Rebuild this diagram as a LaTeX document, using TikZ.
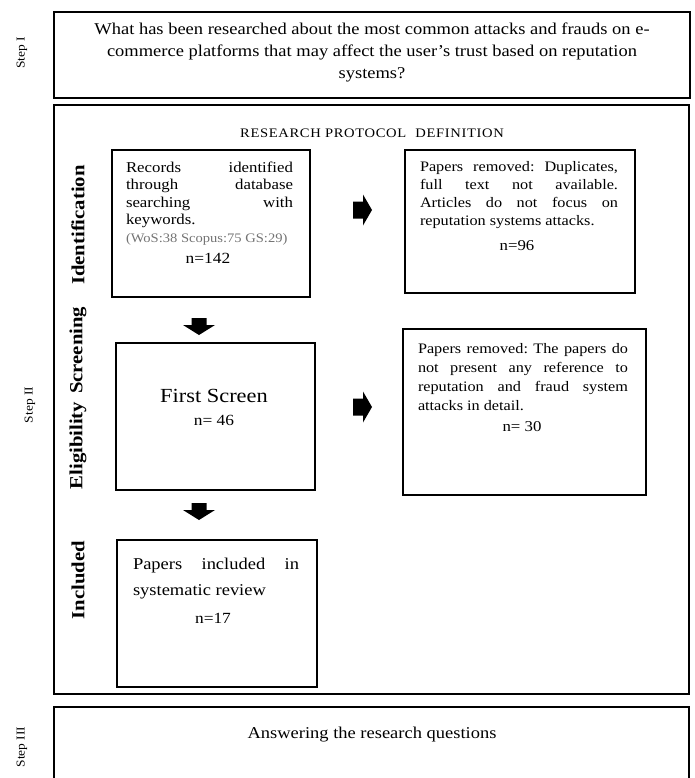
\documentclass[tikz,border=0pt]{standalone}
\usepackage{fontspec}
\setmainfont{Liberation Serif}[FakeStretch=1.12]
\begin{document}
\begin{tikzpicture}[x=1pt,y=-1pt,
 outer/.style={draw, line width=2.6pt, inner sep=0pt, outer sep=0pt, anchor=north west},
 inbox/.style={draw, line width=1.2pt, inner sep=0pt, outer sep=0pt, anchor=north west},
 txt/.style={inner sep=0pt, outer sep=0pt},
 sidelab/.style={txt, rotate=90, font=\bfseries\fontsize{18.5}{22}\selectfont},
 steplab/.style={txt, rotate=90, font=\fontsize{12}{14}\selectfont},
 rarrow/.pic={\fill (-9.5,-8.5) -- (0.5,-8.5) -- (0.5,-15.5) -- (9.5,0) -- (0.5,15.5) -- (0.5,8.5) -- (-9.5,8.5) -- cycle;},
 darrow/.pic={\fill (-7.5,-8.5) -- (7.5,-8.5) -- (7.5,-1.5) -- (16,-1.5) -- (0,8.5) -- (-16,-1.5) -- (-7.5,-1.5) -- cycle;}]
\useasboundingbox (0,0) rectangle (694,778);

% outer step boxes
\node[outer, minimum width=636pt, minimum height=86pt] (s1) at (54,12) {};
\node[outer, minimum width=635pt, minimum height=589pt] (s2) at (54,105) {};
\node[outer, minimum width=635pt, minimum height=90pt] (s3) at (54,707) {};

% step labels
\node[steplab] (l1) at (22,53) {Step I};
\node[steplab] (l2) at (30,405) {Step II};
\node[steplab] (l3) at (22,747) {Step III};

% question
\node[txt, align=center, font=\fontsize{16.5}{22}\selectfont] (q) at (372,52)
 {What has been researched about the most common attacks and frauds on e-\\
  commerce platforms that may affect the user's trust based on reputation\\
  systems?};

\node[txt, font=\fontsize{13}{16}\selectfont\addfontfeatures{LetterSpace=5}] (rpd) at (372,133) {RESEARCH PROTOCOL\hspace{5pt} DEFINITION};

% side labels
\node[sidelab] (lid) at (78,225) {Identification};
\node[sidelab] (lel) at (78,398) {Eligibility\hspace{8pt}Screening};
\node[sidelab] (lin) at (78,580) {Included};

% inner boxes
\node[inbox, minimum width=198pt, minimum height=147pt] (rec) at (112,150) {};
\node[inbox, minimum width=230pt, minimum height=143pt] (rem1) at (405,150) {};
\node[inbox, minimum width=199pt, minimum height=147pt] (fs) at (116,343) {};
\node[inbox, minimum width=243pt, minimum height=166pt] (rem2) at (403,329) {};
\node[inbox, minimum width=200pt, minimum height=147pt] (inc) at (117,540) {};

% box texts
\node[txt, anchor=north west, text width=167pt, align=justify, font=\fontsize{15}{17.5}\selectfont] (trec) at (126,161.5)
 {Records\hfill identified\\
  through\hfill database\\
  searching\hfill with\\
  keywords.\\
  {\color{black!55}\fontsize{13}{17.5}\selectfont (WoS:38 Scopus:75 GS:29)}};
\node[txt, anchor=base, font=\fontsize{15.5}{18}\selectfont] (nrec) at (208,263) {n=142};

\node[txt, anchor=north west, text width=198pt, align=justify, font=\fontsize{14.5}{18}\selectfont] (trem1) at (420,161.5)
 {Papers\hfill removed:\hfill Duplicates,\\
  full\hfill text\hfill not\hfill available.\\
  Articles\hfill do\hfill not\hfill focus\hfill on\\
  reputation systems attacks.};
\node[txt, anchor=base, font=\fontsize{15}{18}\selectfont] (nrem1) at (517,250) {n=96};

\node[txt, anchor=base, font=\fontsize{20}{24}\selectfont] (tfs) at (214,402) {First Screen};
\node[txt, anchor=base, font=\fontsize{15.5}{18}\selectfont] (nfs) at (214,425) {n= 46};

\node[txt, anchor=north west, text width=210pt, align=justify, font=\fontsize{14.5}{19}\selectfont] (trem2) at (418,343)
 {Papers\hfill removed:\hfill The\hfill papers\hfill do\\
  not\hfill present\hfill any\hfill reference\hfill to\\
  reputation\hfill and\hfill fraud\hfill system\\
  attacks in detail.};
\node[txt, anchor=base, font=\fontsize{15}{18}\selectfont] (nrem2) at (522,431) {n= 30};

\node[txt, anchor=north west, text width=166pt, align=justify, font=\fontsize{16.5}{26}\selectfont] (tinc) at (133,558.5)
 {Papers\hfill included\hfill in\\
  systematic review};
\node[txt, anchor=base, font=\fontsize{15.5}{18}\selectfont] (ninc) at (213,623) {n=17};

\node[txt, font=\fontsize{16.5}{20}\selectfont] (ans) at (372,735) {Answering the research questions};

% block arrows
\pic at (362.5,210) {rarrow};
\pic at (362.5,407) {rarrow};
\pic at (199,326.5) {darrow};
\pic at (199,511.5) {darrow};
\end{tikzpicture}
\end{document}
